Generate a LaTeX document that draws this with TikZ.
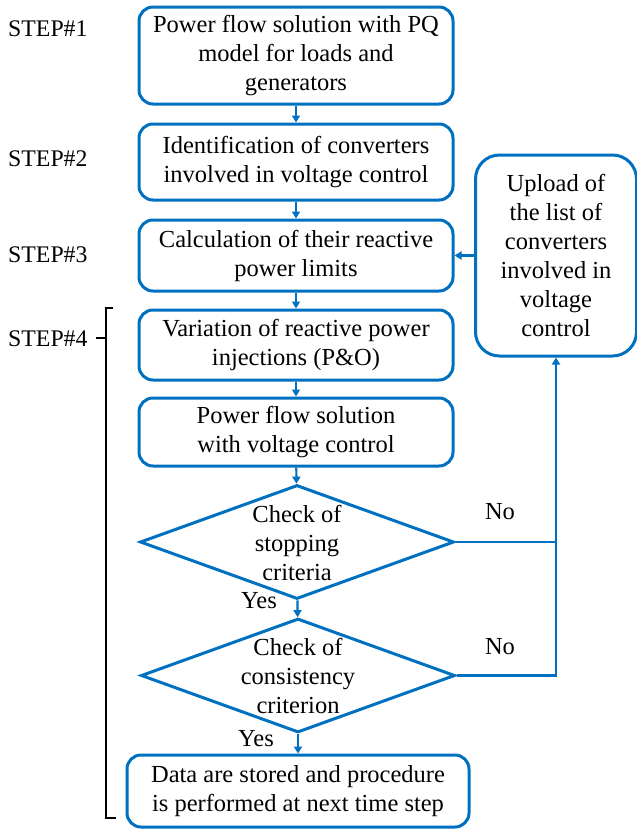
\documentclass[tikz,border=0pt]{standalone}
\usepackage{fontspec}
\setmainfont{Liberation Serif}
\newfontfamily\lserif{Liberation Serif}
\usetikzlibrary{arrows.meta,shapes.geometric}
\definecolor{flowblue}{HTML}{0070C0}
\begin{document}
\begin{tikzpicture}[x=1pt,y=-1pt,
  box/.style={draw=flowblue, line width=3pt, rounded corners=14pt, minimum width=314pt, align=center, font=\lserif\fontsize{24.5}{29}\selectfont, inner sep=0pt},
  dia/.style={draw=flowblue, line width=3pt, diamond, aspect=2.76, minimum width=314pt, minimum height=114pt, inner sep=0pt},
  txt/.style={align=center, font=\lserif\fontsize{24.5}{29}\selectfont, inner sep=0pt},
  conn/.style={draw=flowblue, line width=2.2pt},
  arr/.style={conn, -{Triangle[length=7pt,width=8pt]}},
  steplbl/.style={anchor=west, font=\lserif\fontsize{23.8}{25}\selectfont, inner sep=0pt}
]
\useasboundingbox (0,0) rectangle (637,830);

\node[box, minimum height=97pt] (b1) at (296,55.5) {Power flow solution with PQ\\model for loads and\\generators};
\node[box, minimum height=76pt] (b2) at (296,162) {Identification of converters\\involved in voltage control};
\node[box, minimum height=71pt] (b3) at (296,255.5) {Calculation of their reactive\\power limits};
\node[box, minimum height=70pt] (b4) at (296,345) {Variation of reactive power\\injections (P\&O)};
\node[box, minimum height=68pt] (b5) at (296,432) {Power flow solution\\with voltage control};
\node[dia] (d1) at (297,542) {};
\node[txt] (d1t) at (297,543) {Check of\\stopping\\criteria};
\node[dia] (d2) at (298,675.5) {};
\node[txt] (d2t) at (298,676) {Check of\\consistency\\criterion};
\node[box, minimum width=342pt, minimum height=72pt] (b6) at (298,791) {Data are stored and procedure\\is performed at next time step};
\node[box, minimum width=161pt, minimum height=201pt, rounded corners=24pt] (rb) at (556,255.5) {Upload of\\the list of\\converters\\involved in\\voltage\\control};

\draw[arr] (b1) -- (b2);
\draw[arr] (b2) -- (b3);
\draw[arr] (b3) -- (b4);
\draw[arr] (b4) -- (b5);
\draw[arr] (b5) -- (d1);
\draw[arr] (d1) -- (d2);
\draw[arr] (d2) -- (b6);
\draw[arr] (rb.west) -- (b3.east |- rb.west);
\draw[conn] (d1.east) -- (d1.east -| rb.south);
\draw[arr] (d2.east) -| (rb.south);

\node[txt] (no1) at (500,512) {No};
\node[txt] (no2) at (500,647) {No};
\node[txt] (yes1) at (259,601) {Yes};
\node[txt] (yes2) at (256,739) {Yes};

\node[steplbl] (s1) at (8,29) {STEP\#1};
\node[steplbl] (s2) at (8,159) {STEP\#2};
\node[steplbl] (s3) at (8,255) {STEP\#3};
\node[steplbl] (s4) at (8,339) {STEP\#4};

\draw[line width=2.2pt] (113,308) -- (106,308) -- (106,818) -- (116,818);
\draw[line width=2.2pt] (106,338) -- (96,338);
\end{tikzpicture}
\end{document}
